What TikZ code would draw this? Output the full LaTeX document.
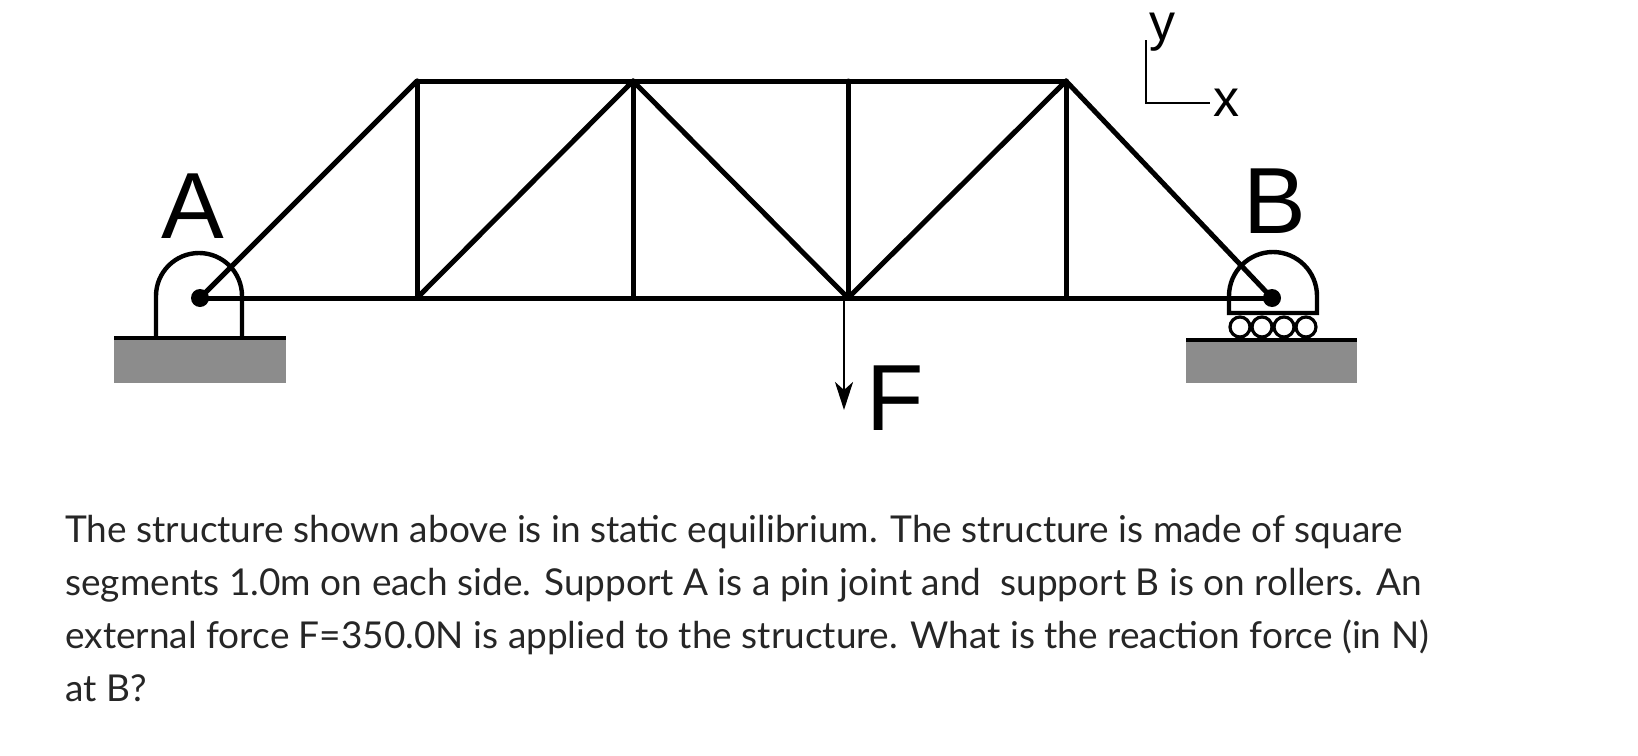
\documentclass[tikz,border=0pt]{standalone}
\usepackage{fontspec}
\setmainfont{Lato}
\newfontfamily\labelfont{Liberation Sans}
\usetikzlibrary{arrows.meta}

\begin{document}
\begin{tikzpicture}[
    x=0.5pt, y=-0.5pt,
    % Styles
    member/.style={line width=2.5pt, line cap=round, line join=round},
    support/.style={line width=2.2pt},
    ground/.style={fill=black!45, draw=none},
    roller/.style={draw, line width=1.6pt, fill=white},
    axis-line/.style={line width=1pt},
    big-label/.style={font=\labelfont\fontsize{47}{47}\selectfont, inner sep=0pt},
    axis-label/.style={font=\labelfont\fontsize{26}{26}\selectfont, inner sep=0pt},
    load-arrow/.style={-{Stealth[length=14pt, width=9pt, inset=4pt]}, line width=1.4pt},
]
\useasboundingbox (0,0) rectangle (1638,755);

% Joints
\coordinate (A) at (200,298);
\coordinate (B) at (1272,298);
\foreach \name/\xx in {1/417, 2/633, 3/848, 4/1066} {
    \coordinate (b\name) at (\xx,298);
    \coordinate (t\name) at (\xx,81);
}

% Supports (drawn first)
\fill[ground] (114,338) rectangle (286,383);
\draw[support] (114,338) -- (286,338);
\draw[support] (156,338) -- (156,296) arc[start angle=180, end angle=360, radius=43] -- (242,338);
\fill[ground] (1186,340) rectangle (1357,383);
\draw[support] (1186,340) -- (1357,340);
\draw[support] (1229,313) -- (1229,296) arc[start angle=180, end angle=360, radius=44] -- (1317,313) -- cycle;
\foreach \xx in {1240, 1262, 1284, 1306}
    \draw[roller] (\xx,327) circle (10);

% Truss members
\draw[member] (A) -- (B);
\draw[member] (t1) -- (t4);
\foreach \name in {1,...,4}
    \draw[member] (b\name) -- (t\name);
\draw[member] (A) -- (t1);
\draw[member] (b1) -- (t2);
\draw[member] (t2) -- (b3);
\draw[member] (b3) -- (t4);
\draw[member] (t4) -- (B);

% Pins
\fill (A) circle (9);
\fill (B) circle (9);

% Load
\coordinate (Ftip) at (844,410);
\draw[load-arrow] (b3 -| Ftip) -- (Ftip);
\node[big-label, anchor=base west] (Flabel) at (866,430) {F};

% Support labels
\node[big-label, anchor=base] (Alabel) at (193,238) {A};
\node[big-label, anchor=base] (Blabel) at (1275,233) {B};

% Axes
\coordinate (o) at (1146,103);
\draw[axis-line] (1146,40) -- (o) -- (1210,103);
\node[axis-label, anchor=base] (ylabel) at (1162,40) {y};
\node[axis-label, anchor=base west] (xlabel) at (1213,116) {x};

% Question text (base = last line)
\node[anchor=base west, align=left, inner sep=0pt, text=black!85,
      font=\fontsize{18.5}{26.5}\selectfont] (question) at (65,701)
{The structure shown above is in static equilibrium. The structure is made of square\\
segments 1.0m on each side. Support A is a pin joint and \ support B is on rollers. An\\
external force F=350.0N is applied to the structure. What is the reaction force (in N)\\
at B?};

\end{tikzpicture}
\end{document}
